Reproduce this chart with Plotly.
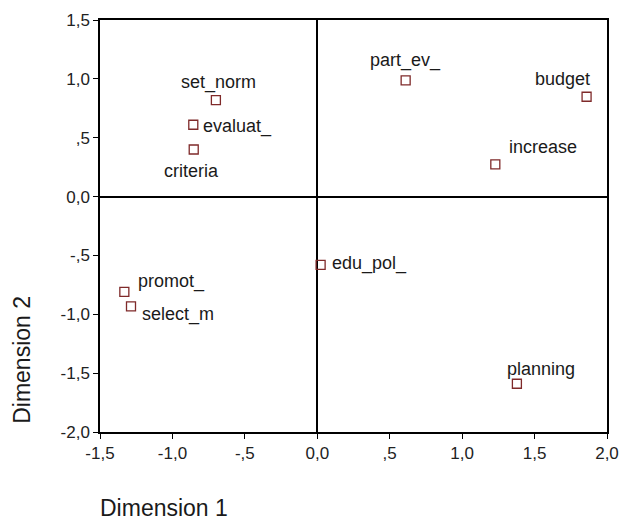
import plotly.graph_objects as go

# Data
labels = ["set_norm", "evaluat_", "criteria", "part_ev_", "budget", "increase",
          "edu_pol_", "planning", "promot_", "select_m"]
dim1 = [-0.70, -0.856, -0.853, 0.61, 1.859, 1.229, 0.023, 1.378, -1.332, -1.286]
dim2 = [0.82, 0.61, 0.40, 0.987, 0.848, 0.273, -0.58, -1.59, -0.81, -0.932]

x_tickvals = [-1.5, -1.0, -0.5, 0.0, 0.5, 1.0, 1.5, 2.0]
x_ticktext = ["-1,5", "-1,0", "-,5", "0,0", ",5", "1,0", "1,5", "2,0"]
y_tickvals = [1.5, 1.0, 0.5, 0.0, -0.5, -1.0, -1.5, -2.0]
y_ticktext = ["1,5", "1,0", ",5", "0,0", "-,5", "-1,0", "-1,5", "-2,0"]

# Label placement (anchor, xshift px, yshift px) per point
label_place = [
    ("center", 3, 18),
    ("left", 8, -2),
    ("center", -2, -22),
    ("center", 0, 20),
    ("right", 5, 18),
    ("left", 12, 17),
    ("left", 9, 1),
    ("center", 24, 15),
    ("left", 12, 10),
    ("left", 9, -8),
]

FONT = "Liberation Sans, Arial, sans-serif"
TXT = "#1a1a1a"
MARK = "#7f2a2a"

fig = go.Figure()
fig.add_trace(go.Scatter(
    x=dim1, y=dim2, mode="markers",
    marker=dict(symbol="square-open", size=9, color=MARK,
                line=dict(width=1.3, color=MARK)),
    hoverinfo="text", text=labels, showlegend=False,
))

annotations = []
for lab, xv, yv, (anc, dx, dy) in zip(labels, dim1, dim2, label_place):
    annotations.append(dict(
        x=xv, y=yv, xref="x", yref="y", text=lab, showarrow=False,
        xanchor=anc, yanchor="middle", xshift=dx, yshift=dy,
        font=dict(family=FONT, size=18, color=TXT),
    ))

annotations.append(dict(
    x=0.126, y=-0.184, xref="paper", yref="paper", text="Dimension 1",
    showarrow=False, xanchor="center", yanchor="middle",
    font=dict(family=FONT, size=23, color=TXT),
))
annotations.append(dict(
    x=-0.154, y=0.175, xref="paper", yref="paper", text="Dimension 2",
    showarrow=False, xanchor="center", yanchor="middle", textangle=-90,
    font=dict(family=FONT, size=23, color=TXT),
))

axis_common = dict(
    showgrid=False, showline=True, linecolor="black", linewidth=1.5,
    mirror=True, ticks="outside", ticklen=5, tickwidth=1.2, tickcolor="black",
    zeroline=True, zerolinecolor="black", zerolinewidth=1.5,
    tickfont=dict(family=FONT, size=17, color="#222222"),
    automargin=False,
)

fig.update_layout(
    width=620, height=520,
    margin=dict(l=100, r=13, t=20, b=88),
    plot_bgcolor="white", paper_bgcolor="white",
    xaxis=dict(range=[-1.5, 2.0], tickvals=x_tickvals, ticktext=x_ticktext, **axis_common),
    yaxis=dict(range=[-2.0, 1.5], tickvals=y_tickvals, ticktext=y_ticktext, **axis_common),
    annotations=annotations,
)

fig.write_html("out.html", config={"displayModeBar": False},
               post_script="document.body.style.margin='0';document.body.style.overflow='hidden';")
